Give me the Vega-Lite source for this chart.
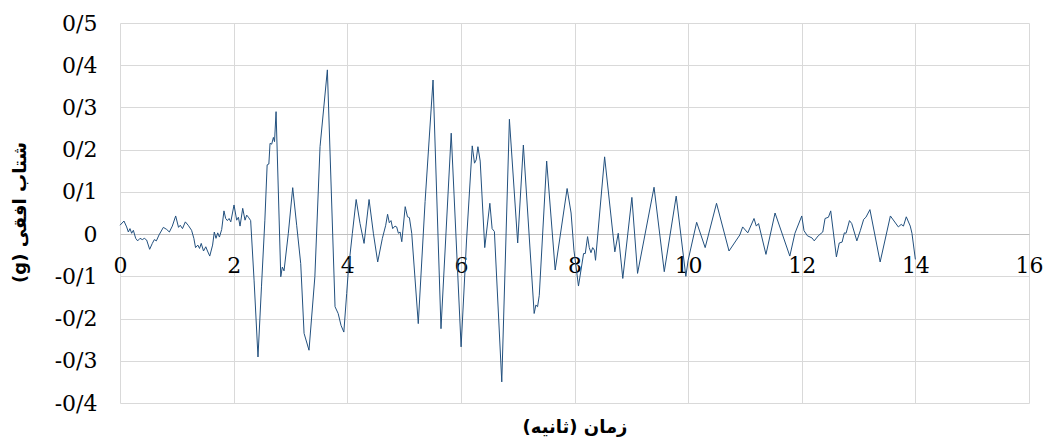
{
  "$schema": "https://vega.github.io/schema/vega-lite/v6.json",
  "width": 909,
  "height": 380,
  "autosize": {"type": "none"},
  "padding": {"left": 120, "top": 23, "right": 14, "bottom": 37},
  "background": "white",
  "config": {"view": {"stroke": null}},
  "data": {"values": [
    {"t": 0, "a": 0.021}, {"t": 0.07, "a": 0.031}, {"t": 0.117, "a": 0.017}, {"t": 0.147, "a": 0.005},
    {"t": 0.176, "a": 0.013}, {"t": 0.205, "a": 0.002}, {"t": 0.235, "a": 0.009}, {"t": 0.276, "a": -0.01},
    {"t": 0.311, "a": -0.016}, {"t": 0.352, "a": -0.01}, {"t": 0.393, "a": -0.013}, {"t": 0.428, "a": -0.01},
    {"t": 0.469, "a": -0.014}, {"t": 0.522, "a": -0.036}, {"t": 0.569, "a": -0.022}, {"t": 0.604, "a": -0.013},
    {"t": 0.64, "a": -0.016}, {"t": 0.687, "a": -0.002}, {"t": 0.763, "a": 0.016}, {"t": 0.822, "a": 0.011},
    {"t": 0.869, "a": 0.005}, {"t": 0.921, "a": 0.019}, {"t": 0.98, "a": 0.043}, {"t": 1.03, "a": 0.016},
    {"t": 1.06, "a": 0.021}, {"t": 1.1, "a": 0.013}, {"t": 1.15, "a": 0.029}, {"t": 1.2, "a": 0.021},
    {"t": 1.26, "a": 0.009}, {"t": 1.3, "a": -0.01}, {"t": 1.33, "a": -0.032}, {"t": 1.37, "a": -0.026},
    {"t": 1.4, "a": -0.034}, {"t": 1.43, "a": -0.022}, {"t": 1.47, "a": -0.04}, {"t": 1.51, "a": -0.03},
    {"t": 1.54, "a": -0.04}, {"t": 1.58, "a": -0.052}, {"t": 1.63, "a": -0.026}, {"t": 1.66, "a": 0.005},
    {"t": 1.69, "a": -0.01}, {"t": 1.72, "a": 0.003}, {"t": 1.75, "a": -0.007}, {"t": 1.79, "a": 0.011},
    {"t": 1.83, "a": 0.055}, {"t": 1.86, "a": 0.037}, {"t": 1.89, "a": 0.032}, {"t": 1.92, "a": 0.037},
    {"t": 1.95, "a": 0.029}, {"t": 2.007, "a": 0.069}, {"t": 2.054, "a": 0.033}, {"t": 2.084, "a": 0.04},
    {"t": 2.113, "a": 0.019}, {"t": 2.16, "a": 0.061}, {"t": 2.201, "a": 0.033}, {"t": 2.23, "a": 0.045},
    {"t": 2.26, "a": 0.04}, {"t": 2.3, "a": 0.032}, {"t": 2.36, "a": -0.109}, {"t": 2.429, "a": -0.291},
    {"t": 2.49, "a": -0.125}, {"t": 2.55, "a": 0.033}, {"t": 2.59, "a": 0.164}, {"t": 2.62, "a": 0.166},
    {"t": 2.641, "a": 0.215}, {"t": 2.67, "a": 0.213}, {"t": 2.7, "a": 0.229}, {"t": 2.72, "a": 0.219},
    {"t": 2.747, "a": 0.29}, {"t": 2.83, "a": -0.101}, {"t": 2.857, "a": -0.078}, {"t": 2.887, "a": -0.087},
    {"t": 2.963, "a": 0.002}, {"t": 3.04, "a": 0.11}, {"t": 3.11, "a": 0.021}, {"t": 3.181, "a": -0.07},
    {"t": 3.24, "a": -0.235}, {"t": 3.327, "a": -0.275}, {"t": 3.43, "a": -0.101}, {"t": 3.521, "a": 0.207},
    {"t": 3.65, "a": 0.389}, {"t": 3.785, "a": -0.172}, {"t": 3.84, "a": -0.188}, {"t": 3.89, "a": -0.216},
    {"t": 3.94, "a": -0.232}, {"t": 3.99, "a": -0.141}, {"t": 4.02, "a": -0.085}, {"t": 4.09, "a": 0.002},
    {"t": 4.157, "a": 0.082}, {"t": 4.225, "a": 0.025}, {"t": 4.296, "a": -0.022}, {"t": 4.384, "a": 0.082},
    {"t": 4.46, "a": 0.002}, {"t": 4.536, "a": -0.066}, {"t": 4.618, "a": -0.01}, {"t": 4.677, "a": 0.021},
    {"t": 4.71, "a": 0.047}, {"t": 4.74, "a": 0.027}, {"t": 4.77, "a": 0.032}, {"t": 4.8, "a": 0.013},
    {"t": 4.841, "a": 0.019}, {"t": 4.87, "a": 0.017}, {"t": 4.9, "a": 0.002}, {"t": 4.93, "a": 0.005},
    {"t": 4.96, "a": -0.018}, {"t": 5.02, "a": 0.065}, {"t": 5.06, "a": 0.041}, {"t": 5.094, "a": 0.039},
    {"t": 5.135, "a": 0.002}, {"t": 5.25, "a": -0.212}, {"t": 5.37, "a": 0.077}, {"t": 5.51, "a": 0.365},
    {"t": 5.65, "a": -0.224}, {"t": 5.83, "a": 0.239}, {"t": 6.004, "a": -0.267}, {"t": 6.1, "a": -0.014},
    {"t": 6.2, "a": 0.209}, {"t": 6.24, "a": 0.168}, {"t": 6.27, "a": 0.176}, {"t": 6.3, "a": 0.207},
    {"t": 6.34, "a": 0.173}, {"t": 6.42, "a": -0.032}, {"t": 6.51, "a": 0.073}, {"t": 6.55, "a": 0.013},
    {"t": 6.59, "a": 0.006}, {"t": 6.72, "a": -0.35}, {"t": 6.854, "a": 0.272}, {"t": 7.0, "a": -0.021},
    {"t": 7.1, "a": 0.211}, {"t": 7.29, "a": -0.188}, {"t": 7.32, "a": -0.168}, {"t": 7.35, "a": -0.172},
    {"t": 7.38, "a": -0.145}, {"t": 7.51, "a": 0.173}, {"t": 7.66, "a": -0.085}, {"t": 7.87, "a": 0.108},
    {"t": 7.94, "a": 0.05}, {"t": 7.99, "a": -0.038}, {"t": 8.07, "a": -0.123}, {"t": 8.16, "a": -0.046},
    {"t": 8.19, "a": -0.046}, {"t": 8.23, "a": -0.006}, {"t": 8.26, "a": -0.032}, {"t": 8.29, "a": -0.044},
    {"t": 8.32, "a": -0.032}, {"t": 8.35, "a": -0.038}, {"t": 8.37, "a": -0.062}, {"t": 8.53, "a": 0.183},
    {"t": 8.71, "a": -0.042}, {"t": 8.77, "a": 0.002}, {"t": 8.85, "a": -0.105}, {"t": 9.01, "a": 0.087},
    {"t": 9.11, "a": -0.093}, {"t": 9.4, "a": 0.111}, {"t": 9.58, "a": -0.089}, {"t": 9.79, "a": 0.09},
    {"t": 9.96, "a": -0.1}, {"t": 10.0, "a": -0.062}, {"t": 10.15, "a": 0.028}, {"t": 10.3, "a": -0.032},
    {"t": 10.5, "a": 0.073}, {"t": 10.72, "a": -0.04}, {"t": 10.91, "a": -0.002}, {"t": 10.96, "a": 0.017},
    {"t": 11.05, "a": 0.003}, {"t": 11.16, "a": 0.037}, {"t": 11.2, "a": 0.019}, {"t": 11.24, "a": 0.025},
    {"t": 11.37, "a": -0.048}, {"t": 11.53, "a": 0.05}, {"t": 11.79, "a": -0.052}, {"t": 11.88, "a": 0.002},
    {"t": 12.0, "a": 0.043}, {"t": 12.04, "a": 0.008}, {"t": 12.1, "a": -0.004}, {"t": 12.18, "a": -0.009},
    {"t": 12.22, "a": -0.016}, {"t": 12.29, "a": -0.004}, {"t": 12.37, "a": 0.005}, {"t": 12.41, "a": 0.037},
    {"t": 12.47, "a": 0.04}, {"t": 12.51, "a": 0.055}, {"t": 12.61, "a": -0.054}, {"t": 12.66, "a": -0.021},
    {"t": 12.71, "a": -0.019}, {"t": 12.75, "a": 0.003}, {"t": 12.78, "a": 0.002}, {"t": 12.84, "a": 0.032},
    {"t": 12.88, "a": 0.025}, {"t": 12.97, "a": -0.016}, {"t": 13.03, "a": 0.008}, {"t": 13.09, "a": 0.035},
    {"t": 13.13, "a": 0.04}, {"t": 13.2, "a": 0.058}, {"t": 13.38, "a": -0.066}, {"t": 13.56, "a": 0.043},
    {"t": 13.7, "a": 0.017}, {"t": 13.75, "a": 0.023}, {"t": 13.79, "a": 0.019}, {"t": 13.84, "a": 0.041},
    {"t": 13.91, "a": 0.019}, {"t": 13.94, "a": 0.002}, {"t": 14.0, "a": -0.06}
  ]},
  "mark": {"type": "line", "color": "#22507e", "strokeWidth": 1},
  "encoding": {
    "x": {
      "field": "t", "type": "quantitative",
      "scale": {"domain": [0, 16], "nice": false, "zero": false},
      "axis": {
        "values": [0, 2, 4, 6, 8, 10, 12, 14, 16],
        "grid": true, "gridColor": "#d9d9d9", "gridWidth": 1,
        "domain": true, "domainColor": "#bfbfbf", "domainWidth": 1,
        "ticks": false, "offset": -169, "labelPadding": 21,
        "labelFont": "DejaVu Serif", "labelFontSize": 22, "labelColor": "#000000",
        "labelFlush": false, "labelOverlap": false,
        "title": "(ثانیه) زمان",
        "titleFont": "DejaVu Sans", "titleFontSize": 18, "titleFontWeight": "bold",
        "titleColor": "#000000", "titleY": 193, "titleBaseline": "middle"
      }
    },
    "y": {
      "field": "a", "type": "quantitative",
      "scale": {"domain": [-0.4, 0.5], "nice": false, "zero": false},
      "axis": {
        "values": [-0.4, -0.3, -0.2, -0.1, 0, 0.1, 0.2, 0.3, 0.4, 0.5],
        "labelExpr": "datum.value == 0 ? '0' : (datum.value < 0 ? '-' : '') + replace(format(abs(datum.value), '.1f'), '.', '/')",
        "grid": true, "gridColor": "#d9d9d9", "gridWidth": 1,
        "domain": false, "ticks": false, "labelPadding": 23,
        "labelFont": "DejaVu Serif", "labelFontSize": 22, "labelColor": "#000000",
        "labelFlush": false, "labelOverlap": false,
        "title": "(g) شتاب افقی",
        "titleFont": "DejaVu Sans", "titleFontSize": 18, "titleFontWeight": "bold",
        "titleColor": "#000000", "titleX": -100, "titleY": 189, "titleAngle": -90, "titleBaseline": "middle"
      }
    }
  }
}
